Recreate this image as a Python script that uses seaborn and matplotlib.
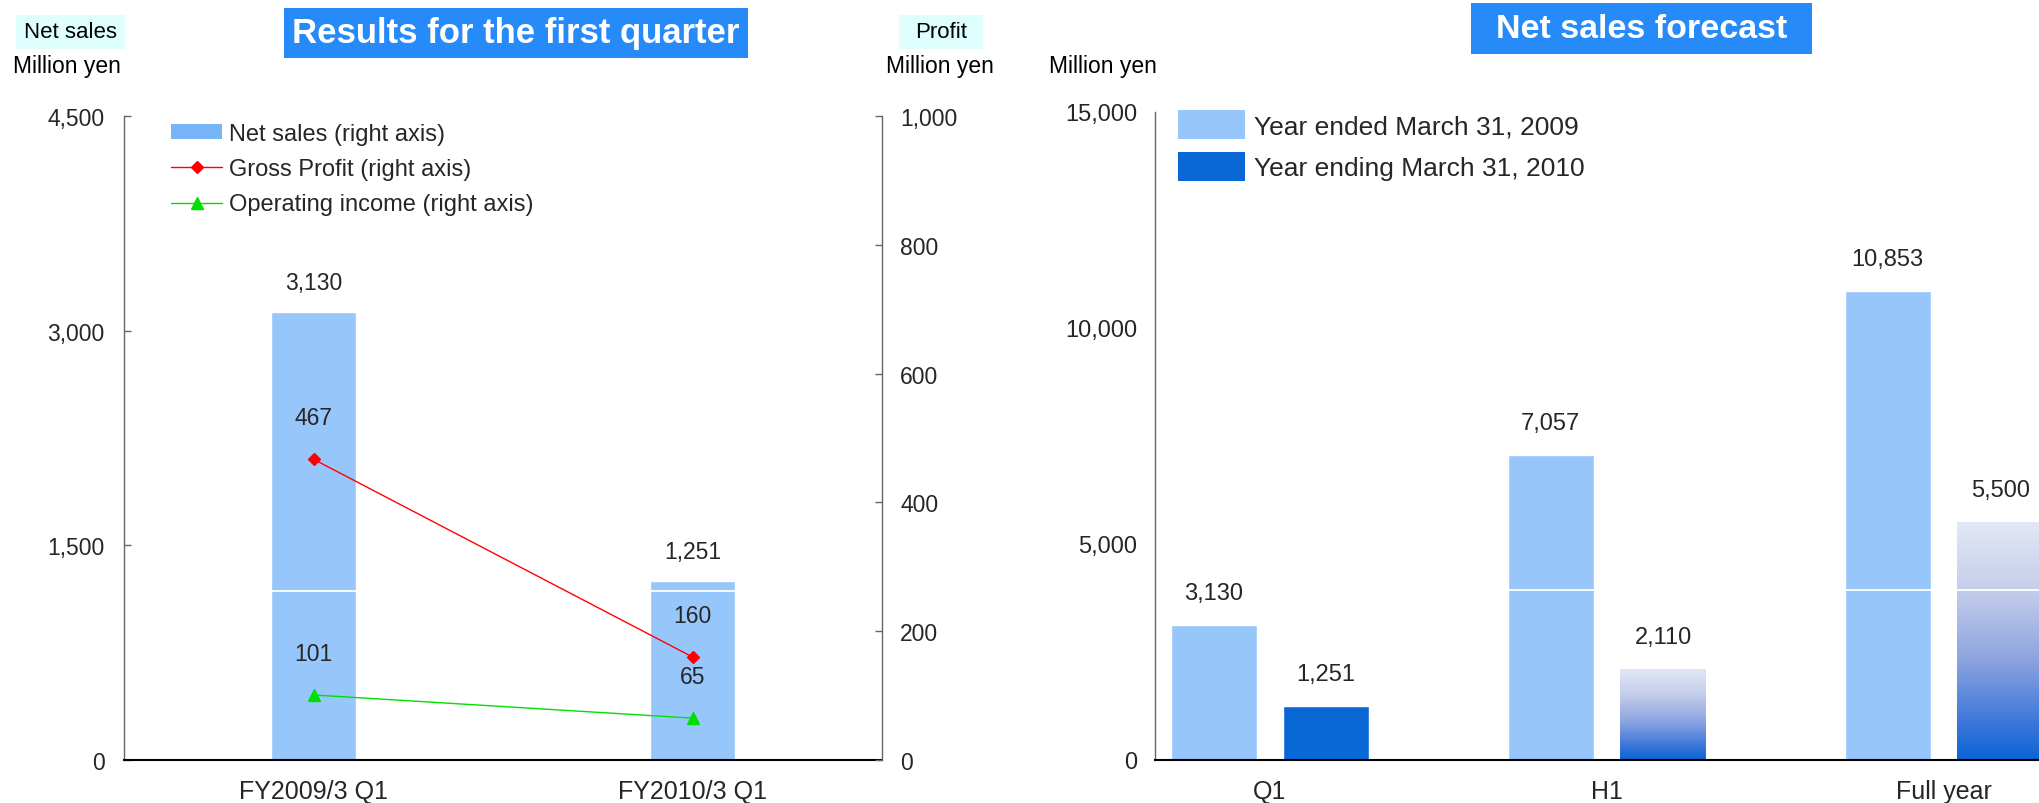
import numpy as np
import pandas as pd
import seaborn as sns
import matplotlib.pyplot as plt
from matplotlib.colors import LinearSegmentedColormap
from matplotlib.lines import Line2D
from matplotlib.patches import Patch, Rectangle
from matplotlib.ticker import FuncFormatter

# first quarter results
quarters = ["FY2009/3 Q1", "FY2010/3 Q1"]
q1_net_sales = [3130, 1251]
gross_profit = [467, 160]
operating_income = [101, 65]

# net sales forecast
periods = ["Q1", "H1", "Full year"]
years = ["Year ended March 31, 2009", "Year ending March 31, 2010"]
sales_2009 = [3130, 7057, 10853]
sales_2010 = [1251, 2110, 5500]
is_forecast = [False, True, True]

LIGHT = "#97C6FB"
LEGEND_LIGHT = "#78B5F8"
DARK = "#0A68D6"
TITLE_BLUE = "#268AF8"
CYAN = "#DFFFFF"
GRAY = "#666666"

W, H = 2039, 804

sns.set_style("white")
plt.rcParams["font.family"] = ["Liberation Sans", "DejaVu Sans"]

fig = plt.figure(figsize=(W / 100, H / 100), dpi=100)
comma = FuncFormatter(lambda v, p: f"{v:,.0f}")


def header(cx, cy, w, h, text, fc, color, size, weight="normal"):
    if fc is not None:
        fig.add_artist(Rectangle(((cx - w / 2) / W, 1 - (cy + h / 2) / H), w / W, h / H,
                                 transform=fig.transFigure, fc=fc, ec="none"))
    fig.text(cx / W, 1 - cy / H, text, ha="center", va="center",
             color=color, fontsize=size, fontweight=weight)


# ---------- left: results for the first quarter ----------
ax = fig.add_axes([124 / W, 43 / H, 758 / W, 644 / H])
sns.barplot(x=quarters, y=q1_net_sales, color=LIGHT, saturation=1, width=0.224, ax=ax)
ax.set_xlim(-0.5, 1.5)
ax.set_ylim(0, 4500)
ax.set_yticks([0, 1500, 3000, 4500])
ax.yaxis.set_major_formatter(comma)
ax.set_xlabel("")
ax.set_ylabel("")
ax.axhline(1181, color="white", lw=1.3, zorder=2)

for bar, v in zip(ax.containers[0], q1_net_sales):
    ax.annotate(f"{v:,}", (bar.get_x() + bar.get_width() / 2, bar.get_height()),
                xytext=(0, 21), textcoords="offset points", ha="center", va="center",
                fontsize=16.5)

ax2 = ax.twinx()
x = np.arange(len(quarters))
ax2.plot(x, gross_profit, color="red", lw=1, marker="D", ms=6.5)
ax2.plot(x, operating_income, color="#00E000", lw=1, marker="^", ms=8)
ax2.set_ylim(0, 1000)
ax2.set_yticks(range(0, 1001, 200))
ax2.yaxis.set_major_formatter(comma)
for series in (gross_profit, operating_income):
    for xi, v in zip(x, series):
        ax2.annotate(f"{v}", (xi, v), xytext=(0, 30), textcoords="offset points",
                     ha="center", va="center", fontsize=16.5)

ax.tick_params(axis="y", direction="in", length=5, width=1, color=GRAY, labelsize=16.5, pad=14)
ax.tick_params(axis="x", length=0, labelsize=18, pad=14)
ax2.tick_params(axis="y", direction="in", length=5, width=1, color=GRAY, labelsize=16.5, pad=13)
for s in ("top", "right"):
    ax.spines[s].set_visible(False)
for s in ("top", "left", "bottom"):
    ax2.spines[s].set_visible(False)
ax.spines["left"].set_color(GRAY)
ax.spines["left"].set_linewidth(1)
ax.spines["bottom"].set_color("black")
ax.spines["bottom"].set_linewidth(1.5)
ax2.spines["right"].set_color(GRAY)
ax2.spines["right"].set_linewidth(1)

left_handles = [
    Patch(fc=LEGEND_LIGHT, ec="none"),
    Line2D([], [], color="red", lw=1, marker="D", ms=6.5),
    Line2D([], [], color="#00E000", lw=1, marker="^", ms=8),
]
ax2.legend(left_handles, ["Net sales (right axis)", "Gross Profit (right axis)",
                          "Operating income (right axis)"],
           loc="upper left", bbox_to_anchor=(171 / W, 1 - 124 / H), bbox_transform=fig.transFigure,
           frameon=False, fontsize=17, handlelength=2.17, handleheight=0.6,
           handletextpad=0.3, labelspacing=0.56, borderpad=0, borderaxespad=0)

# ---------- right: net sales forecast ----------
ax3 = fig.add_axes([1155 / W, 43 / H, 904 / W, 648 / H])
df = pd.DataFrame({
    "period": periods * 2,
    "year": [years[0]] * len(periods) + [years[1]] * len(periods),
    "sales": sales_2009 + sales_2010,
})
sns.barplot(data=df, x="period", y="sales", hue="year", palette=[LIGHT, DARK], saturation=1,
            width=0.668, gap=0.237, legend=False, ax=ax3)

cmap = LinearSegmentedColormap.from_list(
    "forecast", [(0, "#0A64D6"), (0.15, "#3A76DA"), (0.43, "#8FA5E0"),
                 (0.72, "#C5CEEB"), (1, "#E2E8F5")])
grad = np.linspace(0, 1, 256).reshape(-1, 1)
for bar, fc in zip(ax3.containers[1], is_forecast):
    if fc:
        x0, w, h = bar.get_x(), bar.get_width(), bar.get_height()
        im = ax3.imshow(grad, extent=(x0, x0 + w, 0, h), origin="lower", aspect="auto",
                        cmap=cmap, zorder=bar.get_zorder() + 0.1)
        im.set_clip_path(bar)

ax3.set_xlim(-0.341, 2.341)
ax3.set_ylim(0, 15000)
ax3.set_yticks([0, 5000, 10000, 15000])
ax3.yaxis.set_major_formatter(comma)
ax3.set_xlabel("")
ax3.set_ylabel("")
ax3.axhline(3935, color="white", lw=1.3, zorder=2)

for cont, vals in zip(ax3.containers, (sales_2009, sales_2010)):
    for bar, v in zip(cont, vals):
        ax3.annotate(f"{v:,}", (bar.get_x() + bar.get_width() / 2, bar.get_height()),
                     xytext=(0, 23), textcoords="offset points", ha="center", va="center",
                     fontsize=17)

ax3.tick_params(axis="y", direction="in", length=5, width=1, color=GRAY, labelsize=17, pad=13)
ax3.tick_params(axis="x", length=0, labelsize=18, pad=14)
for s in ("top", "right"):
    ax3.spines[s].set_visible(False)
ax3.spines["left"].set_color(GRAY)
ax3.spines["left"].set_linewidth(1)
ax3.spines["bottom"].set_color("black")
ax3.spines["bottom"].set_linewidth(1.5)

ax3.legend([Patch(fc=LIGHT, ec="none"), Patch(fc=DARK, ec="none")], years,
           loc="upper left", bbox_to_anchor=(1178 / W, 1 - 111 / H), bbox_transform=fig.transFigure,
           frameon=False, fontsize=19, handlelength=2.55, handleheight=1.3,
           handletextpad=0.33, labelspacing=0.5, borderpad=0, borderaxespad=0)

# ---------- headers ----------
header(70.5, 33, 109, 34, "Net sales", CYAN, "black", 16)
header(67, 66, 0, 0, "Million yen", None, "black", 16.5)
header(941, 33, 84, 34, "Profit", CYAN, "black", 16)
header(940, 66, 0, 0, "Million yen", None, "black", 16.5)
header(1103, 66, 0, 0, "Million yen", None, "black", 16.5)
header(516, 34, 464, 50, "Results for the first quarter", TITLE_BLUE, "white", 25, "bold")
header(1641.5, 29.5, 341, 51, "Net sales forecast", TITLE_BLUE, "white", 24.5, "bold")

fig.savefig("out.png", dpi=100)
